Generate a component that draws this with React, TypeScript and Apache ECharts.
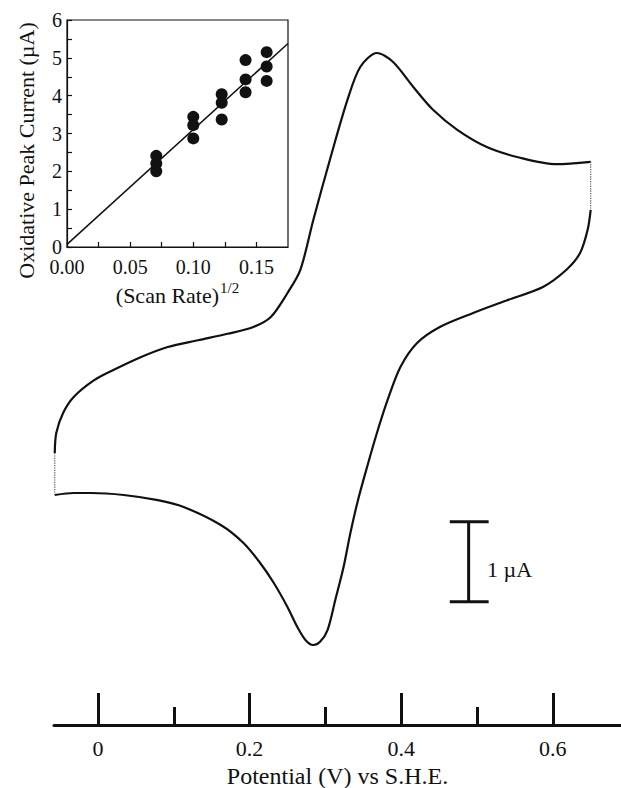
import React, { useEffect, useRef } from "react";
import * as echarts from "echarts";

// ---- Main cyclic voltammogram (potential in V vs S.H.E., current in µA) ----
const upperPotential = [-0.057, -0.055, -0.046, -0.032, -0.005, 0.021, 0.057, 0.092, 0.132, 0.171, 0.205, 0.228, 0.25, 0.267, 0.284, 0.307, 0.329, 0.346, 0.368, 0.389, 0.416, 0.442, 0.474, 0.513, 0.557, 0.605, 0.65];
const upperCurrent = [-0.7, -0.45, -0.2, 0.0, 0.21, 0.34, 0.5, 0.625, 0.71, 0.79, 0.875, 1.0, 1.3, 1.59, 2.21, 3.0, 3.71, 4.125, 4.3, 4.19, 3.875, 3.59, 3.34, 3.125, 2.99, 2.91, 2.94];

const lowerPotential = [0.65, 0.646, 0.636, 0.618, 0.587, 0.54, 0.495, 0.451, 0.421, 0.399, 0.382, 0.368, 0.355, 0.343, 0.333, 0.324, 0.313, 0.303, 0.293, 0.284, 0.274, 0.263, 0.25, 0.232, 0.214, 0.192, 0.162, 0.113, 0.079, 0.034, -0.009, -0.032, -0.057];
const lowerCurrent = [2.34, 2.09, 1.8, 1.59, 1.375, 1.21, 1.05, 0.875, 0.675, 0.375, -0.04, -0.45, -0.875, -1.29, -1.7, -2.125, -2.54, -2.91, -3.06, -3.1, -3.04, -2.875, -2.625, -2.325, -2.075, -1.825, -1.6, -1.375, -1.29, -1.225, -1.2, -1.2, -1.225];

const rightSwitchPotential = [0.65, 0.65];
const rightSwitchCurrent = [2.94, 2.34];
const leftSwitchPotential = [-0.057, -0.057];
const leftSwitchCurrent = [-1.225, -0.7];

const majorTicks = [0, 0.2, 0.4, 0.6];
const minorTicks = [0.1, 0.3, 0.5];

// scale bar: 1 µA
const scaleBarPotential = 0.489;
const scaleBarCapPotential = [0.4641, 0.5154];
const scaleBarCurrent = [-1.56, -2.56];
const scaleBarLabel = "1 µA";

// ---- Inset: oxidative peak current vs (scan rate)^1/2 ----
const sqrtScanRate = [0.0707, 0.0707, 0.0707, 0.1, 0.1, 0.1, 0.1225, 0.1225, 0.1225, 0.1414, 0.1414, 0.1414, 0.1581, 0.1581, 0.1581];
const peakCurrent = [2.41, 2.21, 2.0, 3.44, 3.22, 2.87, 4.04, 3.81, 3.37, 4.94, 4.43, 4.09, 5.15, 4.77, 4.39];
const fitX = [0, 0.175];
const fitY = [0.07, 5.38];

const FONT = '"Liberation Serif", "Times New Roman", serif';

const pairs = (xs: number[], ys: number[]) => xs.map((x, i) => [x, ys[i]]);

export default function App() {
  const ref = useRef<HTMLDivElement>(null);

  useEffect(() => {
    if (!ref.current) return;
    const chart = echarts.init(ref.current, undefined, { renderer: "svg" });

    const blackLine = (w: number) => ({ color: "#111", width: w });

    chart.setOption({
      animation: false,
      backgroundColor: "#fff",
      textStyle: { fontFamily: FONT, color: "#111" },
      grid: [
        { left: 54, right: 0, top: 29, bottom: 63, outerBoundsMode: "none", containLabel: false },
        { left: 67, top: 20, width: 221, height: 227, show: true, borderColor: "#111", borderWidth: 1.2, backgroundColor: "transparent", outerBoundsMode: "none", containLabel: false },
      ],
      xAxis: [
        {
          gridIndex: 0,
          type: "value",
          min: -0.058,
          max: 0.69,
          position: "bottom",
          axisLine: { onZero: false, lineStyle: blackLine(3) },
          axisTick: { inside: true, length: 32, customValues: majorTicks, lineStyle: blackLine(3) },
          axisLabel: {
            customValues: majorTicks,
            formatter: (v: number) => String(v),
            fontFamily: FONT,
            fontSize: 22,
            color: "#111",
            margin: 12,
          },
          splitLine: { show: false },
          name: "Potential (V) vs S.H.E.",
          nameLocation: "middle",
          nameGap: 39,
          nameTextStyle: { fontFamily: FONT, fontSize: 24, lineHeight: 24, color: "#111" },
        },
        {
          gridIndex: 0,
          type: "value",
          min: -0.058,
          max: 0.69,
          position: "bottom",
          axisLine: { show: false, onZero: false },
          axisTick: { inside: true, length: 18, customValues: minorTicks, lineStyle: blackLine(3) },
          axisLabel: { show: false },
          splitLine: { show: false },
        },
        {
          gridIndex: 1,
          type: "value",
          min: 0,
          max: 0.175,
          interval: 0.025,
          position: "bottom",
          axisLine: { onZero: false, lineStyle: blackLine(1.2) },
          axisTick: { inside: true, length: 5, lineStyle: blackLine(1.2) },
          axisLabel: {
            formatter: (v: number) => (Math.round(v * 1000) % 50 === 0 ? v.toFixed(2) : ""),
            fontFamily: FONT,
            fontSize: 20,
            color: "#111",
            margin: 10,
            showMaxLabel: false,
          },
          splitLine: { show: false },
          name: "{b|(Scan Rate)}{s|1/2}",
          nameLocation: "middle",
          nameGap: 33,
          nameTextStyle: {
            rich: {
              b: { fontFamily: FONT, fontSize: 22, color: "#111", verticalAlign: "bottom", lineHeight: 26 },
              s: { fontFamily: FONT, fontSize: 15, color: "#111", verticalAlign: "top", lineHeight: 26, padding: [0, 0, 8, 1] },
            },
          },
        },
      ],
      yAxis: [
        { gridIndex: 0, type: "value", min: -4.1, max: 4.6, show: false },
        {
          gridIndex: 1,
          type: "value",
          min: 0,
          max: 6,
          interval: 1,
          axisLine: { show: true, onZero: false, lineStyle: blackLine(1.2) },
          axisTick: { show: true, inside: true, length: 5, lineStyle: blackLine(1.2) },
          minorTick: { show: true, splitNumber: 2, length: 5, lineStyle: blackLine(1.2) },
          axisLabel: { fontFamily: FONT, fontSize: 20, color: "#111", margin: 5, lineHeight: 16 },
          splitLine: { show: false },
          name: "Oxidative Peak Current (µA)",
          nameLocation: "middle",
          nameGap: 30,
          nameTextStyle: { fontFamily: FONT, fontSize: 22, color: "#111", padding: [0, 34, 0, 0] },
        },
      ],
      graphic: [
        {
          type: "text",
          left: 487,
          top: 558,
          style: { text: scaleBarLabel, font: `22px ${FONT}`, fill: "#111" },
        },
      ],
      series: [
        {
          type: "line",
          xAxisIndex: 0,
          yAxisIndex: 0,
          data: pairs(upperPotential, upperCurrent),
          smooth: 0.3,
          showSymbol: false,
          lineStyle: blackLine(2.2),
        },
        {
          type: "line",
          xAxisIndex: 0,
          yAxisIndex: 0,
          data: pairs(lowerPotential, lowerCurrent),
          smooth: 0.3,
          showSymbol: false,
          lineStyle: blackLine(2.2),
        },
        {
          type: "line",
          xAxisIndex: 0,
          yAxisIndex: 0,
          data: pairs(rightSwitchPotential, rightSwitchCurrent),
          showSymbol: false,
          lineStyle: { color: "#555", width: 1.2, type: "dotted" },
        },
        {
          type: "line",
          xAxisIndex: 0,
          yAxisIndex: 0,
          data: pairs(leftSwitchPotential, leftSwitchCurrent),
          showSymbol: false,
          lineStyle: { color: "#555", width: 1.2, type: "dotted" },
        },
        {
          type: "line",
          xAxisIndex: 0,
          yAxisIndex: 0,
          data: [[scaleBarPotential, scaleBarCurrent[0]], [scaleBarPotential, scaleBarCurrent[1]]],
          showSymbol: false,
          lineStyle: blackLine(3),
        },
        {
          type: "line",
          xAxisIndex: 0,
          yAxisIndex: 0,
          data: [[scaleBarCapPotential[0], scaleBarCurrent[0]], [scaleBarCapPotential[1], scaleBarCurrent[0]]],
          showSymbol: false,
          lineStyle: blackLine(3),
        },
        {
          type: "line",
          xAxisIndex: 0,
          yAxisIndex: 0,
          data: [[scaleBarCapPotential[0], scaleBarCurrent[1]], [scaleBarCapPotential[1], scaleBarCurrent[1]]],
          showSymbol: false,
          lineStyle: blackLine(3),
        },
        {
          type: "line",
          xAxisIndex: 2,
          yAxisIndex: 1,
          data: pairs(fitX, fitY),
          showSymbol: false,
          lineStyle: blackLine(1.5),
        },
        {
          type: "scatter",
          xAxisIndex: 2,
          yAxisIndex: 1,
          data: pairs(sqrtScanRate, peakCurrent),
          symbol: "circle",
          symbolSize: 12,
          itemStyle: { color: "#111", opacity: 1 },
        },
      ],
    });

    return () => chart.dispose();
  }, []);

  return (
    <div
      ref={ref}
      style={{ position: "fixed", left: 0, top: 0, width: 621, height: 788, background: "#fff" }}
    />
  );
}
